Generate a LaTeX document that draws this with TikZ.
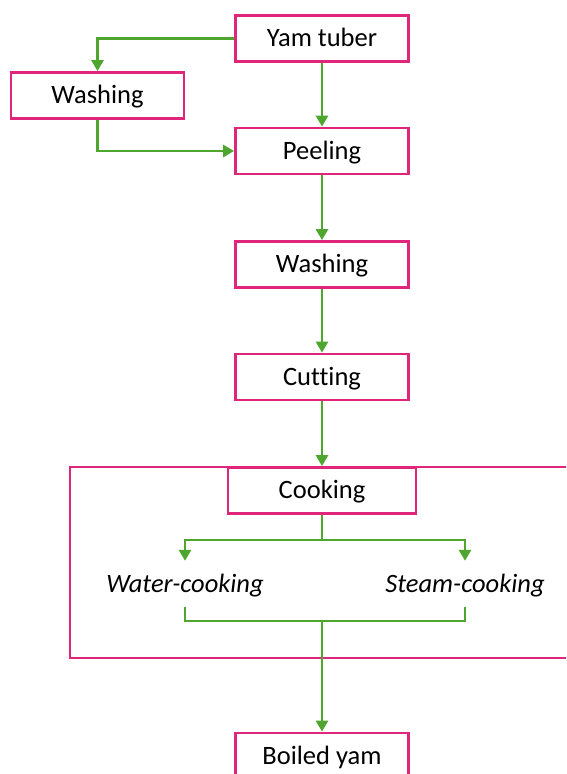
\documentclass[tikz,border=0pt]{standalone}
\usepackage{fontspec}
\setmainfont{Carlito}[Ligatures=NoCommon]
\usetikzlibrary{arrows.meta}
\definecolor{boxpink}{RGB}{224,38,122}
\definecolor{flowgreen}{RGB}{78,166,46}
\begin{document}
\begin{tikzpicture}[x=1pt,y=-1pt,
  stepbox/.style={draw=boxpink,line width=2.8pt,minimum width=173pt,minimum height=46pt,inner sep=0pt,font=\fontsize{26.5}{30}\selectfont,fill=white,text height=20pt,text depth=4pt},
  plain/.style={inner sep=0pt,minimum height=46pt,font=\fontsize{26.5}{30}\selectfont\itshape,text height=20pt,text depth=4pt},
  flow/.style={draw=flowgreen,line width=2.8pt},
  arr/.style={flow,-{Triangle[width=12pt,length=11pt]}}]
\useasboundingbox (0,0) rectangle (566,774);
\clip (0,0) rectangle (566,774);
\node[draw=boxpink,line width=2.8pt,minimum width=530pt,minimum height=191pt,inner sep=0pt] (frame) at (335,562.5) {};
\node[stepbox] (yam) at (322,38.5) {Yam tuber};
\node[stepbox] (washL) at (97.5,95.5) {Washing};
\node[stepbox] (peel) at (322,151) {Peeling};
\node[stepbox] (wash) at (322,264.5) {Washing};
\node[stepbox] (cut) at (322,377) {Cutting};
\node[stepbox,minimum width=188pt] (cook) at (322,490.5) {Cooking};
\node[plain] (water) at (185,584) {Water-cooking};
\node[plain] (steam) at (465,584) {Steam-cooking};
\node[stepbox] (boiled) at (322,756) {Boiled yam};
\coordinate (split) at (322,540);
\coordinate (merge) at (322,621);
\draw[arr] (yam.west) -| (washL.north);
\draw[arr] (washL.south) |- (peel.west);
\draw[arr] (yam) -- (peel);
\draw[arr] (peel) -- (wash);
\draw[arr] (wash) -- (cut);
\draw[arr] (cut) -- (cook);
\draw[flow] (cook) -- (split);
\draw[arr] (split) -| (water.north);
\draw[arr] (split) -| (steam.north);
\draw[flow] (water.south) |- (merge) -| (steam.south);
\draw[arr] (merge) -- (boiled);
\end{tikzpicture}
\end{document}
